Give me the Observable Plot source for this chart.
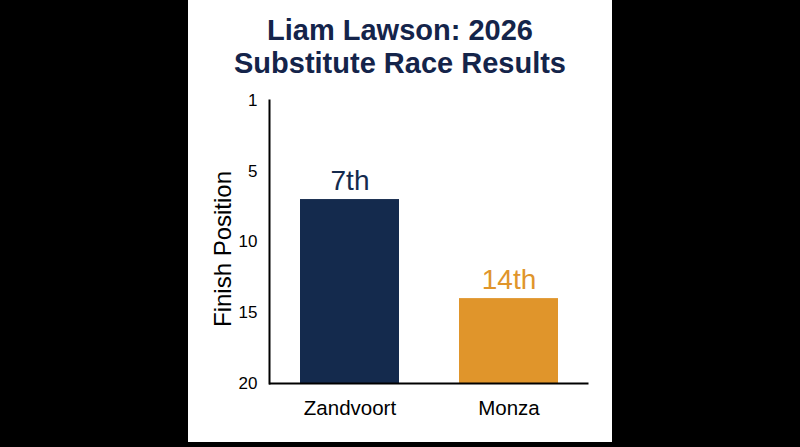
<!DOCTYPE html>
<html>
<head>
<meta charset="utf-8">
<script src="https://cdn.jsdelivr.net/npm/d3@7"></script>
<script src="https://cdn.jsdelivr.net/npm/@observablehq/plot@0.6"></script>
<style>
  html, body { margin: 0; padding: 0; background: #000; width: 800px; height: 447px; overflow: hidden; }
  #panel { position: absolute; left: 188px; top: 0; width: 424px; height: 442px; background: #fff; }
  #title { position: absolute; left: 0; top: 13.5px; width: 424px; text-align: center;
           font-family: "Liberation Sans", Arial, Helvetica, sans-serif; font-weight: bold;
           font-size: 29px; line-height: 33px; color: #14244a; }
  #chart { position: absolute; left: 0; top: 90px; }
</style>
</head>
<body>
<div id="panel">
  <div id="title">Liam Lawson: 2026<br>Substitute Race Results</div>
  <div id="chart"></div>
</div>
<script>
const categories = ["Zandvoort", "Monza"];
const finishPositions = [7, 14];
const finishLabels = ["7th", "14th"];
const gridSize = 20;
const yTickValues = [0, 5, 10, 15, 20];
const yTickLabels = ["1", "5", "10", "15", "20"];
const barColors = ["#142a4d", "#e0952b"];
const yAxisLabel = ["Finish Position"];

const data = categories.map((c, i) => ({race: c, pos: finishPositions[i], label: finishLabels[i]}));

const chart = Plot.plot({
  width: 424,
  height: 352,
  marginTop: 10,
  marginBottom: 59,
  marginLeft: 81,
  marginRight: 23.5,
  style: {fontFamily: "'Liberation Sans', Arial, Helvetica, sans-serif", background: "white", color: "black"},
  x: {domain: categories, paddingInner: 0.377, paddingOuter: 0.189, label: null},
  y: {domain: [0, gridSize], reverse: true, label: null},
  color: {domain: categories, range: barColors},
  marks: [
    Plot.barY(data, {x: "race", y1: () => gridSize, y2: "pos", fill: "race"}),
    Plot.text(data, {x: "race", y: "pos", text: "label", fill: "race", fontSize: 28, lineAnchor: "bottom", dy: -10}),
    Plot.axisY({ticks: yTickValues, tickFormat: (d) => yTickLabels[yTickValues.indexOf(d)], tickSize: 0, tickPadding: 12, fontSize: 17, label: null}),
    Plot.axisX({tickSize: 0, tickPadding: 17, fontSize: 20.5, label: null}),
    Plot.ruleY([gridSize], {stroke: "black", strokeWidth: 2}),
    Plot.frame({anchor: "left", stroke: "black", strokeWidth: 2}),
    Plot.text(yAxisLabel, {frameAnchor: "left", textAnchor: "middle", rotate: -90, dx: -46, dy: 7, fontSize: 24, fill: "black"})
  ]
});
document.getElementById("chart").appendChild(chart);
</script>
</body>
</html>
